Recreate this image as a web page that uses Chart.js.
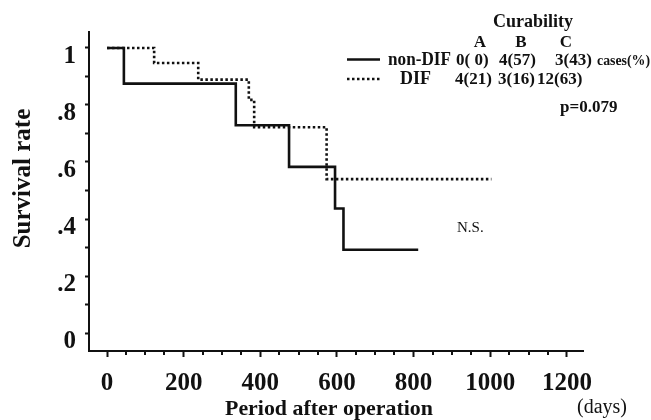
<!DOCTYPE html>
<html><head><meta charset="utf-8">
<script src="https://cdn.jsdelivr.net/npm/chart.js@4/dist/chart.umd.min.js"></script>
<style>html,body{margin:0;padding:0;background:#fff}#wrap{width:651px;height:420px;position:relative}</style>
</head><body><div id="wrap"><canvas id="c" width="651" height="420"></canvas></div>
<script>
// ---- data ----
const nonDifDays = [0, 44, 336, 475, 595, 617, 812];
const nonDifSurvival = [1, 0.875, 0.729, 0.583, 0.437, 0.292, 0.292];
const difDays = [0, 123, 238, 370, 384, 573, 1003];
const difSurvival = [1, 0.947, 0.889, 0.818, 0.722, 0.540, 0.540];
const xTickLabels = ['0', '200', '400', '600', '800', '1000', '1200'];
const yTickLabels = ['0', '.2', '.4', '.6', '.8', '1'];
const curabilityCols = ['A', 'B', 'C'];
const nonDifCases = ['0( 0)', '4(57)', '3(43)'];
const difCases = ['4(21)', '3(16)', '12(63)'];
const pValue = 'p=0.079';

const INK = '#111';
const SERIF = '"Liberation Serif", "Times New Roman", serif';

const overlay = {
  id: 'overlay',
  afterDraw(chart) {
    const ctx = chart.ctx, xs = chart.scales.x;
    ctx.save();
    // minor x ticks
    ctx.strokeStyle = INK; ctx.lineWidth = 2;
    xs.ticks.forEach(t => {
      if (Math.round(t.value) % 200 !== 0) {
        const px = Math.round(xs.getPixelForValue(t.value));
        ctx.beginPath(); ctx.moveTo(px, xs.top); ctx.lineTo(px, xs.top + 4); ctx.stroke();
      }
    });
    ctx.fillStyle = INK;
    // y title
    ctx.save();
    ctx.translate(30, 178.5); ctx.rotate(-Math.PI / 2);
    ctx.font = 'bold 25px ' + SERIF; ctx.textAlign = 'center'; ctx.textBaseline = 'alphabetic';
    ctx.fillText('Survival rate', 0, 0);
    ctx.restore();
    // x title
    ctx.font = 'bold 22px ' + SERIF; ctx.textAlign = 'left'; ctx.textBaseline = 'alphabetic';
    ctx.fillText('Period after operation', 225, 415, 208);
    ctx.font = '20px ' + SERIF;
    ctx.fillText('(days)', 577, 413, 56);
    // N.S.
    ctx.font = '15px ' + SERIF;
    ctx.fillText('N.S.', 457, 232);
    // legend
    ctx.font = 'bold 18px ' + SERIF;
    ctx.fillText('Curability', 493, 27, 82);
    ctx.textAlign = 'center';
    ctx.font = 'bold 17px ' + SERIF;
    const colX = [480, 521, 566];
    curabilityCols.forEach((c, i) => ctx.fillText(c, colX[i], 47));
    ctx.textAlign = 'left';
    // line samples
    ctx.lineWidth = 2.5; ctx.setLineDash([]);
    ctx.beginPath(); ctx.moveTo(347, 59.5); ctx.lineTo(380, 59.5); ctx.stroke();
    ctx.setLineDash([2.5, 2.5]);
    ctx.beginPath(); ctx.moveTo(347, 79); ctx.lineTo(380, 79); ctx.stroke();
    ctx.setLineDash([]);
    ctx.font = 'bold 18px ' + SERIF;
    ctx.fillText('non-DIF', 388, 65, 63);
    ctx.fillText('DIF', 400, 84, 34);
    ctx.font = 'bold 17px ' + SERIF;
    const row1X = [456, 499, 555];
    nonDifCases.forEach((s, i) => ctx.fillText(s, row1X[i], 65, i === 0 ? 38 : 44));
    const row2X = [455, 498, 537];
    difCases.forEach((s, i) => ctx.fillText(s, row2X[i], 84, 52));
    ctx.font = 'bold 14px ' + SERIF;
    ctx.fillText('cases(%)', 597, 65, 53);
    ctx.font = 'bold 17px ' + SERIF;
    ctx.fillText(pValue, 560, 112, 62);
    ctx.restore();
  }
};

const toPoints = (xs, ys) => xs.map((x, i) => ({ x, y: ys[i] }));

new Chart(document.getElementById('c'), {
  type: 'line',
  data: {
    datasets: [
      { label: 'non-DIF', data: toPoints(nonDifDays, nonDifSurvival), stepped: 'before',
        borderColor: INK, borderWidth: 2.6, pointRadius: 0, fill: false, borderCapStyle: 'butt' },
      { label: 'DIF', data: toPoints(difDays, difSurvival), stepped: 'before',
        borderColor: INK, borderWidth: 2.6, borderDash: [2.5, 2.5], pointRadius: 0, fill: false, borderCapStyle: 'butt' }
    ]
  },
  options: {
    responsive: false, animation: false, devicePixelRatio: 1,
    layout: { padding: { top: 32, right: 68, left: 0, bottom: 0 } },
    plugins: { legend: { display: false }, tooltip: { enabled: false } },
    scales: {
      x: {
        type: 'linear', min: -47, max: 1242,
        afterFit: s => { s.height = 69; },
        border: { display: true, color: INK, width: 2 },
        grid: { display: true, drawOnChartArea: false, drawTicks: true, tickLength: 6, tickWidth: 2,
          tickColor: c => (Math.round(c.tick.value) % 200 === 0 ? INK : 'rgba(0,0,0,0)') },
        ticks: {
          stepSize: 50, includeBounds: false, autoSkip: false, maxRotation: 0, padding: 12,
          color: INK, font: { family: SERIF, size: 25, weight: 'bold' },
          callback: v => { const r = Math.round(v); return r % 200 === 0 ? xTickLabels[r / 200] : ''; }
        }
      },
      y: {
        type: 'linear', min: -0.063, max: 1.056,
        afterFit: s => { s.width = 89; },
        border: { display: true, color: INK, width: 2 },
        grid: { display: true, drawOnChartArea: false, drawTicks: true, tickLength: 4, tickWidth: 2, tickColor: INK },
        ticks: {
          stepSize: 0.1, includeBounds: false, autoSkip: false, padding: 9,
          color: INK, font: { family: SERIF, size: 25, weight: 'bold', lineHeight: 0.7 },
          callback: v => { const r = Math.round(v * 10); return r % 2 === 0 ? ['', yTickLabels[r / 2]] : ''; }
        }
      }
    }
  },
  plugins: [overlay]
});
</script>
</body></html>
